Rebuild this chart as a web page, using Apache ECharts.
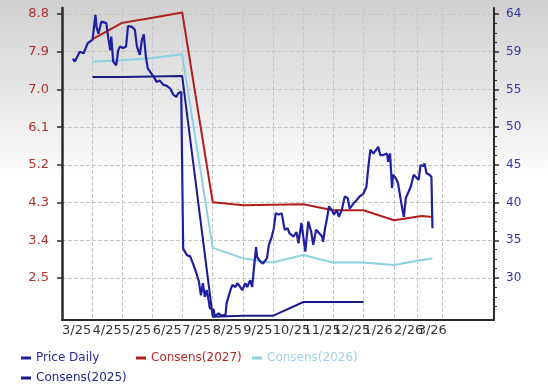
<!DOCTYPE html>
<html><head><meta charset="utf-8">
<script src="https://cdn.jsdelivr.net/npm/echarts@6/dist/echarts.min.js"></script>
<style>
html,body{margin:0;padding:0;}
body{width:548px;height:388px;background:linear-gradient(#d0d0d0 0%,#f2f2f2 36%,#ffffff 46%,#ffffff 100%);}
#c{width:548px;height:388px;}
</style></head><body><div id="c"></div>
<script>
// ---- data ----
const priceDates = [
'2025-03-12','2025-03-14','2025-03-19','2025-03-23','2025-03-27','2025-03-29',
'2025-04-01','2025-04-04','2025-04-05','2025-04-07','2025-04-10','2025-04-12','2025-04-15','2025-04-17','2025-04-19','2025-04-20','2025-04-22','2025-04-25','2025-04-27','2025-04-29',
'2025-05-02','2025-05-05','2025-05-07','2025-05-11','2025-05-14','2025-05-16','2025-05-19','2025-05-21','2025-05-23','2025-05-25','2025-05-27','2025-05-29',
'2025-06-02','2025-06-05','2025-06-08','2025-06-12','2025-06-15','2025-06-19','2025-06-22','2025-06-25','2025-06-27','2025-06-30',
'2025-07-01','2025-07-02','2025-07-06','2025-07-09','2025-07-12','2025-07-16','2025-07-18','2025-07-20','2025-07-22','2025-07-24','2025-07-26','2025-07-28','2025-07-29',
'2025-08-02','2025-08-03','2025-08-07','2025-08-10','2025-08-14','2025-08-15','2025-08-19','2025-08-21','2025-08-24','2025-08-26','2025-08-29','2025-08-31',
'2025-09-03','2025-09-05','2025-09-08','2025-09-10','2025-09-12','2025-09-14','2025-09-15','2025-09-18','2025-09-21','2025-09-25','2025-09-27','2025-09-30',
'2025-10-02','2025-10-04','2025-10-07','2025-10-10','2025-10-13','2025-10-16','2025-10-18','2025-10-22','2025-10-25','2025-10-27','2025-10-30',
'2025-11-03','2025-11-06','2025-11-09','2025-11-11','2025-11-14','2025-11-16','2025-11-20','2025-11-21','2025-11-23','2025-11-25','2025-11-27','2025-11-30',
'2025-12-02','2025-12-05','2025-12-07','2025-12-10','2025-12-13','2025-12-16','2025-12-18','2025-12-22','2025-12-25','2025-12-28',
'2026-01-01','2026-01-04','2026-01-06','2026-01-08','2026-01-11','2026-01-14','2026-01-16','2026-01-18','2026-01-21','2026-01-25','2026-01-26','2026-01-28','2026-01-30','2026-01-31',
'2026-02-03','2026-02-05','2026-02-09','2026-02-11','2026-02-13','2026-02-15','2026-02-18','2026-02-21','2026-02-23','2026-02-26','2026-02-28',
'2026-03-03','2026-03-04','2026-03-06','2026-03-09','2026-03-11','2026-03-12'
];
const priceValues = [
59.1,58.7,60.0,59.8,61.1,60.9,
61.6,64.9,63.3,62.4,64.0,64.2,63.8,61.8,60.2,62.0,58.7,58.2,60.2,60.7,
60.5,60.7,63.4,63.3,62.9,60.7,59.6,61.5,62.3,59.5,57.8,58.0,
56.7,56.0,56.2,55.6,55.5,55.1,54.3,54.0,54.5,54.7,
54.6,33.9,33.0,32.9,31.9,30.4,29.5,27.7,29.3,27.5,28.4,26.9,26.0,
25.8,24.9,25.3,25.0,25.1,26.6,28.4,29.1,28.8,29.3,28.8,28.4,
29.3,28.8,29.7,28.8,31.5,34.1,32.8,32.2,31.9,32.6,34.4,35.5,
36.6,38.6,38.4,38.6,36.4,36.6,35.9,35.5,36.1,34.6,37.3,
33.5,37.5,36.1,34.4,36.4,36.6,35.5,34.8,36.6,37.9,39.5,39.0,
38.4,39.0,38.1,39.0,40.8,40.6,39.2,39.9,40.3,40.8,
41.2,42.1,44.8,47.0,46.5,47.0,47.4,46.3,46.3,46.5,45.4,46.5,41.9,43.7,
43.2,42.6,39.5,38.1,40.6,40.8,42.1,43.7,43.9,43.0,45.0,
44.8,45.2,43.9,43.7,43.4,36.6
];
const estDates = ['2025-04-01','2025-05-01','2025-06-01','2025-07-01','2025-08-01','2025-09-01','2025-10-01','2025-11-01','2025-12-01','2026-01-01','2026-02-01','2026-03-01','2026-03-12'];
const cons2027 = [8.20,8.59,8.71,8.84,4.31,4.24,4.25,4.26,4.12,4.12,3.88,3.98,3.96];
const cons2026 = [7.66,7.70,7.75,7.84,3.22,2.97,2.87,3.05,2.87,2.87,2.81,2.93,2.97];
const cons2025 = [7.30,7.30,7.31,7.32,1.58,1.60,1.60,1.93,1.93,1.93];

const xTickDates = ['2025-03-01','2025-04-01','2025-05-01','2025-06-01','2025-07-01','2025-08-01','2025-09-01','2025-10-01','2025-11-01','2025-12-01','2026-01-01','2026-02-01','2026-02-25','2026-03-22'];
const xTickLabels = ['3/25','4/25','5/25','6/25','7/25','8/25','9/25','10/25','11/25','12/25','1/26','2/26','3/26',''];
const leftTicks = [2.5,3.4,4.3,5.2,6.1,7.0,7.9,8.8];
const rightTickValues = [30,35,40,45,50,55,60,65];
const rightTickLabels = ['30','35','40','45','50','55','59','64'];

// ---- helpers ----
function ts(s){const p=s.split('-').map(Number);return Date.UTC(p[0],p[1]-1,p[2]);}
const xTickTs = xTickDates.map(ts);
const labelIdx = xTickLabels.map((l,i)=>i).filter(i=>xTickLabels[i]!=='');
const xLabelsEven = labelIdx.filter(i=>i%2===0).map(i=>xTickTs[i]);
const xLabelsOdd = labelIdx.filter(i=>i%2===1).map(i=>xTickTs[i]);
const minorRight = [];
for(let v=26.25; v<65; v+=1.25){ if(Math.abs(v/5-Math.round(v/5))>1e-6) minorRight.push(+v.toFixed(2)); }

const pair = (d,v)=>v.map((y,i)=>[ts(d[i]),y]);

const C_PRICE='#1f1fa0', C27='#b01e1e', C26='#8ecfe1', C25='#1a1a8a';
const FONT='DejaVu Sans';
const XMIN=ts('2025-03-01'), XMAX=ts('2026-05-13')+12*3600e3;
const mkLegend=(name,left,top,color)=>({
  data:[name],left:left,top:top,icon:'rect',itemWidth:10,itemHeight:3,
  textStyle:{color:color,fontSize:12,fontFamily:FONT},selectedMode:false
});
const xLabelFmt = function(v){const i=xTickTs.indexOf(v);return i>=0?xTickLabels[i]:'';};
const mkXLabel = (vals)=>({customValues:vals,align:'left',margin:4,color:'#333',fontSize:13,fontFamily:FONT,
  hideOverlap:false,showMinLabel:true,showMaxLabel:true,formatter:xLabelFmt});

const chart = echarts.init(document.getElementById('c'),null,{renderer:'canvas'});
chart.setOption({
  animation:false,
  backgroundColor:'transparent',
  grid:{left:62,right:54,top:8,bottom:68,containLabel:false},
  legend:[
    mkLegend('Price Daily',16,347,'#2a2a9a'),
    mkLegend('Consens(2027)',131,347,'#b02828'),
    mkLegend('Consens(2026)',247,347,'#9fd2e2'),
    mkLegend('Consens(2025)',16,367,'#24248c')
  ],
  xAxis:[{
    type:'value',min:XMIN,max:XMAX,
    axisLine:{show:true,onZero:false,lineStyle:{color:'#2a2a2a',width:2}},
    axisTick:{show:false,customValues:xTickTs},
    axisLabel:mkXLabel(xLabelsEven),
    splitLine:{show:true,lineStyle:{color:'#c6c6c6',type:'dashed',width:1}}
  },{
    type:'value',min:XMIN,max:XMAX,position:'bottom',
    axisLine:{show:false,onZero:false},
    axisTick:{show:false,customValues:xLabelsOdd},
    axisLabel:mkXLabel(xLabelsOdd),
    splitLine:{show:false}
  }],
  yAxis:[
    {type:'value',position:'left',min:1.5,max:8.945,
     axisLine:{show:true,lineStyle:{color:'#2a2a2a',width:2.5}},
     axisTick:{show:true,customValues:leftTicks,length:5,lineStyle:{color:'#2a2a2a',width:1.5}},
     axisLabel:{customValues:leftTicks,color:'#b03030',fontSize:13,fontFamily:FONT,margin:13,
       formatter:function(v){return (+v).toFixed(1);}},
     splitLine:{show:false}},
    {type:'value',position:'right',min:24.43,max:65.8,
     axisLine:{show:true,lineStyle:{color:'#2a2a2a',width:2}},
     axisTick:{show:true,customValues:rightTickValues,length:5,lineStyle:{color:'#2a2a2a',width:1.5}},
     axisLabel:{customValues:rightTickValues,color:'#3535a8',fontSize:12,fontFamily:FONT,margin:12,
       formatter:function(v){const i=rightTickValues.indexOf(Math.round(v));return i>=0?rightTickLabels[i]:'';}},
     splitLine:{show:true,lineStyle:{color:'#c6c6c6',type:'dashed',width:1}}},
    {type:'value',position:'right',min:24.43,max:65.8,
     axisLine:{show:false},
     axisTick:{show:true,customValues:minorRight,length:3,lineStyle:{color:'#2a2a2a',width:1}},
     axisLabel:{show:false},splitLine:{show:false}}
  ],
  series:[
    {name:'Consens(2027)',type:'line',yAxisIndex:0,data:pair(estDates,cons2027),showSymbol:false,
     lineStyle:{color:C27,width:2},itemStyle:{color:C27}},
    {name:'Consens(2026)',type:'line',yAxisIndex:0,data:pair(estDates,cons2026),showSymbol:false,
     lineStyle:{color:C26,width:2},itemStyle:{color:C26}},
    {name:'Consens(2025)',type:'line',yAxisIndex:0,data:pair(estDates,cons2025),showSymbol:false,
     lineStyle:{color:C25,width:2},itemStyle:{color:C25}},
    {name:'Price Daily',type:'line',yAxisIndex:1,data:pair(priceDates,priceValues),showSymbol:false,
     lineStyle:{color:C_PRICE,width:2.2},itemStyle:{color:C_PRICE}}
  ]
});
</script></body></html>
